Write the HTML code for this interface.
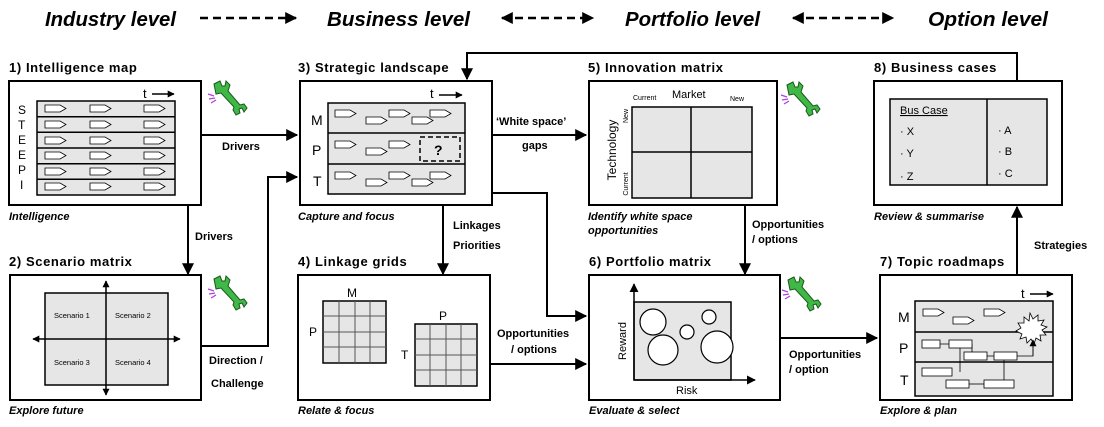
<!DOCTYPE html>
<html><head><meta charset="utf-8"><style>
html,body{margin:0;padding:0;background:#fff;}
svg{display:block;font-family:"Liberation Sans",sans-serif;}
.t{font-weight:bold;font-size:13px;letter-spacing:0.6px}
.f{font-weight:bold;font-style:italic;font-size:11px}
.l{font-weight:bold;font-size:11px}
.h{font-weight:bold;font-style:italic;font-size:20px}
</style></head><body>
<svg width="1104" height="427" viewBox="0 0 1104 427" xmlns="http://www.w3.org/2000/svg">
<defs>
<marker id="a" viewBox="0 0 10 10" refX="9" refY="5" markerWidth="9" markerHeight="9" markerUnits="userSpaceOnUse" orient="auto"><path d="M0,0 L10,5 L0,10z" fill="#000"/></marker>
<marker id="a2" viewBox="0 0 10 10" refX="9" refY="5" markerWidth="14" markerHeight="12" markerUnits="userSpaceOnUse" orient="auto-start-reverse"><path d="M0,0 L10,5 L0,10z" fill="#000"/></marker>
<marker id="s" viewBox="0 0 10 10" refX="9" refY="5" markerWidth="7" markerHeight="7" markerUnits="userSpaceOnUse" orient="auto-start-reverse"><path d="M0,0 L10,5 L0,10z" fill="#000"/></marker>
<path id="c" d="M0,0 h15 l6,3.5 l-6,3.5 h-15z" fill="#fff" stroke="#000" stroke-width="0.8"/>
<g id="w">
<path d="M214,84 l6,-3 l2,5 l3,0 l1,-5 l4,4 l-2,6 l12,14 l4,-1 l3,4 l-3,4 l-2,-4 l-3,1 l1,4 l-4,2 l-3,-5 l1,-3 l-13,-14 l-5,1z" fill="#3fb848" stroke="#1a5a1a" stroke-width="1"/>
<path d="M208,94 l6,2 M209,99 l6,-1 M211,103 l5,-3" stroke="#b040e0" stroke-width="1.3"/>
</g>
</defs>
<!-- header -->
<g class="h">
<text x="45" y="26" textLength="131" lengthAdjust="spacingAndGlyphs">Industry level</text>
<text x="327" y="26" textLength="143" lengthAdjust="spacingAndGlyphs">Business level</text>
<text x="625" y="26" textLength="135" lengthAdjust="spacingAndGlyphs">Portfolio level</text>
<text x="928" y="26" textLength="120" lengthAdjust="spacingAndGlyphs">Option level</text>
</g>
<g stroke="#000" stroke-width="2.5" stroke-dasharray="8,5" fill="none">
<line x1="200" y1="18" x2="296" y2="18" marker-end="url(#a2)"/>
<line x1="502" y1="18" x2="593" y2="18" marker-start="url(#a2)" marker-end="url(#a2)"/>
<line x1="793" y1="18" x2="893" y2="18" marker-start="url(#a2)" marker-end="url(#a2)"/>
</g>

<!-- titles & footers -->
<text class="t" x="9" y="72">1) Intelligence map</text>
<text class="t" x="298" y="72">3) Strategic landscape</text>
<text class="t" x="588" y="72">5) Innovation matrix</text>
<text class="t" x="874" y="72">8) Business cases</text>
<text class="t" x="9" y="266">2) Scenario matrix</text>
<text class="t" x="298" y="266">4) Linkage grids</text>
<text class="t" x="589" y="266">6) Portfolio matrix</text>
<text class="t" x="880" y="266">7) Topic roadmaps</text>
<text class="f" x="9" y="220">Intelligence</text>
<text class="f" x="298" y="220">Capture and focus</text>
<text class="f" x="588" y="220">Identify white space</text>
<text class="f" x="588" y="234">opportunities</text>
<text class="f" x="874" y="220">Review &amp; summarise</text>
<text class="f" x="9" y="414">Explore future</text>
<text class="f" x="298" y="414">Relate &amp; focus</text>
<text class="f" x="589" y="414">Evaluate &amp; select</text>
<text class="f" x="880" y="414">Explore &amp; plan</text>

<g fill="#fff" stroke="#000" stroke-width="2">
<rect x="9" y="81" width="192" height="124"/>
<rect x="300" y="81" width="192" height="124"/>
<rect x="589" y="81" width="188" height="124"/>
<rect x="874" y="81" width="188" height="124"/>
<rect x="10" y="275" width="191" height="125"/>
<rect x="298" y="275" width="192" height="125"/>
<rect x="589" y="275" width="191" height="125"/>
<rect x="880" y="275" width="192" height="125"/>
</g>

<!-- box1 -->
<rect x="37" y="101" width="138" height="94" fill="#e6e6e6" stroke="#000" stroke-width="1.5"/>
<g stroke="#000" stroke-width="1.5">
<line x1="37" y1="116.7" x2="175" y2="116.7"/><line x1="37" y1="132.3" x2="175" y2="132.3"/><line x1="37" y1="148" x2="175" y2="148"/><line x1="37" y1="163.7" x2="175" y2="163.7"/><line x1="37" y1="179.3" x2="175" y2="179.3"/>
</g>
<g font-size="12">
<text x="18" y="114">S</text><text x="18" y="129">T</text><text x="18" y="144">E</text><text x="18" y="159">E</text><text x="18" y="174">P</text><text x="20" y="189">I</text>
</g>
<g>
<use href="#c" x="45" y="105"/><use href="#c" x="90" y="105"/><use href="#c" x="144" y="105"/>
<use href="#c" x="45" y="121"/><use href="#c" x="90" y="121"/><use href="#c" x="144" y="121"/>
<use href="#c" x="45" y="137"/><use href="#c" x="90" y="137"/><use href="#c" x="144" y="137"/>
<use href="#c" x="45" y="152"/><use href="#c" x="90" y="152"/><use href="#c" x="144" y="152"/>
<use href="#c" x="45" y="168"/><use href="#c" x="90" y="168"/><use href="#c" x="144" y="168"/>
<use href="#c" x="45" y="183"/><use href="#c" x="90" y="183"/><use href="#c" x="144" y="183"/>
</g>
<text x="143" y="98" font-size="13">t</text>
<line x1="152" y1="94" x2="174" y2="94" stroke="#000" stroke-width="1.5" marker-end="url(#s)"/>
<use href="#w"/>

<!-- box3 -->
<rect x="328" y="103" width="137" height="91" fill="#e6e6e6" stroke="#000" stroke-width="1.5"/>
<line x1="328" y1="133" x2="465" y2="133" stroke="#000" stroke-width="1.5"/>
<line x1="328" y1="164" x2="465" y2="164" stroke="#000" stroke-width="1.5"/>
<g font-size="14"><text x="311" y="125">M</text><text x="312" y="155">P</text><text x="313" y="186">T</text></g>
<use href="#c" x="335" y="110"/><use href="#c" x="366" y="117"/><use href="#c" x="389" y="110"/><use href="#c" x="412" y="117"/><use href="#c" x="430" y="110"/>
<use href="#c" x="335" y="141"/><use href="#c" x="366" y="148"/><use href="#c" x="389" y="141"/>
<rect x="420" y="137" width="40" height="24" fill="none" stroke="#000" stroke-width="1.5" stroke-dasharray="5,3"/>
<text x="434" y="155" font-size="14" font-weight="bold">?</text>
<use href="#c" x="335" y="172"/><use href="#c" x="366" y="179"/><use href="#c" x="389" y="172"/><use href="#c" x="412" y="179"/><use href="#c" x="430" y="172"/>
<text x="430" y="98" font-size="13">t</text>
<line x1="439" y1="95" x2="462" y2="95" stroke="#000" stroke-width="1.5" marker-end="url(#s)"/>

<!-- box5 -->
<rect x="632" y="107" width="120" height="91" fill="#e6e6e6" stroke="#000" stroke-width="1.5"/>
<line x1="691" y1="107" x2="691" y2="198" stroke="#000" stroke-width="1.5"/>
<line x1="632" y1="152" x2="752" y2="152" stroke="#000" stroke-width="1.5"/>
<text x="633" y="100" font-size="7">Current</text>
<text x="672" y="98" font-size="11">Market</text>
<text x="730" y="101" font-size="7">New</text>
<text transform="translate(616,150) rotate(-90)" text-anchor="middle" font-size="12">Technology</text>
<text transform="translate(628,116) rotate(-90)" text-anchor="middle" font-size="7">New</text>
<text transform="translate(628,184) rotate(-90)" text-anchor="middle" font-size="7">Current</text>
<use href="#w" transform="translate(573,1)"/>

<!-- box8 -->
<rect x="890" y="99" width="157" height="86" fill="#e6e6e6" stroke="#000" stroke-width="1.5"/>
<line x1="987" y1="99" x2="987" y2="185" stroke="#000" stroke-width="1.5"/>
<text x="900" y="114" font-size="11" text-decoration="underline">Bus Case</text>
<g font-size="11"><text x="900" y="135">· X</text><text x="900" y="157">· Y</text><text x="900" y="180">· Z</text>
<text x="998" y="134">· A</text><text x="998" y="155">· B</text><text x="998" y="177">· C</text></g>

<!-- box2 -->
<rect x="45" y="293" width="123" height="92" fill="#e6e6e6" stroke="#000" stroke-width="1.5"/>
<line x1="106" y1="395" x2="106" y2="281" stroke="#000" stroke-width="1.5" marker-start="url(#s)" marker-end="url(#s)"/>
<line x1="33" y1="339" x2="180" y2="339" stroke="#000" stroke-width="1.5" marker-start="url(#s)" marker-end="url(#s)"/>
<g font-size="7.5"><text x="54" y="318">Scenario 1</text><text x="115" y="318">Scenario 2</text><text x="54" y="365">Scenario 3</text><text x="115" y="365">Scenario 4</text></g>
<use href="#w" transform="translate(0,195)"/>

<!-- box4 -->
<g fill="#e6e6e6" stroke="#000" stroke-width="1.5">
<rect x="323" y="301" width="63" height="62"/>
<rect x="415" y="324" width="62" height="62"/>
</g>
<g stroke="#555" stroke-width="1">
<path d="M339,301V363M355,301V363M370,301V363M323,316H386M323,332H386M323,347H386"/>
<path d="M430,324V386M446,324V386M461,324V386M415,339H477M415,355H477M415,370H477"/>
</g>
<g font-size="12"><text x="347" y="297">M</text><text x="309" y="336">P</text><text x="439" y="320">P</text><text x="401" y="359">T</text></g>

<!-- box6 -->
<rect x="634" y="302" width="97" height="78" fill="#e6e6e6" stroke="#000" stroke-width="1.5"/>
<line x1="634" y1="380" x2="634" y2="284" stroke="#000" stroke-width="1.5" marker-end="url(#a)"/>
<line x1="634" y1="380" x2="755" y2="380" stroke="#000" stroke-width="1.5" marker-end="url(#a)"/>
<g fill="#fff" stroke="#000" stroke-width="1.2">
<circle cx="653" cy="322" r="13"/><circle cx="687" cy="332" r="7"/><circle cx="709" cy="317" r="7"/><circle cx="663" cy="350" r="15"/><circle cx="717" cy="347" r="16"/>
</g>
<text transform="translate(626,341) rotate(-90)" text-anchor="middle" font-size="11">Reward</text>
<text x="676" y="394" font-size="11">Risk</text>
<use href="#w" transform="translate(574,196)"/>

<!-- box7 -->
<rect x="915" y="301" width="138" height="95" fill="#e6e6e6" stroke="#000" stroke-width="1.5"/>
<line x1="915" y1="332" x2="1053" y2="332" stroke="#000" stroke-width="1.5"/>
<line x1="915" y1="362" x2="1053" y2="362" stroke="#000" stroke-width="1.5"/>
<g font-size="14"><text x="898" y="322">M</text><text x="899" y="353">P</text><text x="900" y="385">T</text></g>
<use href="#c" x="923" y="309"/><use href="#c" x="953" y="317"/><use href="#c" x="984" y="309"/>
<path d="M1030,313 l3,6 l5,-4 l0,6 l6,-1 l-3,5 l6,2 l-5,3 l4,5 l-6,0 l1,6 l-5,-3 l-2,6 l-3,-5 l-4,4 l-1,-6 l-6,2 l2,-5 l-6,-3 l5,-3 l-3,-5 l6,0 l0,-6 l5,4z" fill="#fff" stroke="#000" stroke-width="0.8"/>
<g stroke="#000" stroke-width="0.8" fill="none">
<path d="M940,344H949M960,348V372M972,344V356H964M987,356H994M1004,360V384M1017,356H1033V342"/>
<path d="M969,384H984"/>
</g>
<line x1="1033" y1="356" x2="1033" y2="340" stroke="#000" stroke-width="0.8" marker-end="url(#s)"/>
<g fill="#fff" stroke="#000" stroke-width="0.8">
<rect x="922" y="340" width="18" height="8"/><rect x="949" y="340" width="23" height="8"/><rect x="964" y="352" width="23" height="8"/><rect x="994" y="352" width="23" height="8"/>
<rect x="922" y="368" width="30" height="8"/><rect x="946" y="380" width="23" height="8"/><rect x="984" y="380" width="30" height="8"/>
</g>
<text x="1021" y="298" font-size="13">t</text>
<line x1="1030" y1="294" x2="1053" y2="294" stroke="#000" stroke-width="1.5" marker-end="url(#s)"/>

<!-- connectors -->
<g stroke="#000" stroke-width="2" fill="none">
<line x1="201" y1="135" x2="297" y2="135" marker-end="url(#a2)"/>
<line x1="188" y1="205" x2="188" y2="274" marker-end="url(#a2)"/>
<polyline points="201,346 268,346 268,177 297,177" marker-end="url(#a2)"/>
<line x1="492" y1="135" x2="586" y2="135" marker-end="url(#a2)"/>
<polyline points="1017,80 1017,53 467,53 467,79" marker-end="url(#a2)"/>
<line x1="443" y1="205" x2="443" y2="274" marker-end="url(#a2)"/>
<polyline points="492,193 547,193 547,316 586,316" marker-end="url(#a2)"/>
<line x1="490" y1="364" x2="586" y2="364" marker-end="url(#a2)"/>
<line x1="745" y1="205" x2="745" y2="274" marker-end="url(#a2)"/>
<line x1="780" y1="338" x2="877" y2="338" marker-end="url(#a2)"/>
<line x1="1017" y1="275" x2="1017" y2="207" marker-end="url(#a2)"/>
</g>
<g class="l">
<text x="222" y="150">Drivers</text>
<text x="195" y="240">Drivers</text>
<text x="209" y="364">Direction /</text>
<text x="211" y="387">Challenge</text>
<text x="496" y="125">‘White space’</text>
<text x="522" y="149">gaps</text>
<text x="453" y="229">Linkages</text>
<text x="453" y="249">Priorities</text>
<text x="497" y="337">Opportunities</text>
<text x="511" y="353">/ options</text>
<text x="752" y="228">Opportunities</text>
<text x="752" y="243">/ options</text>
<text x="789" y="358">Opportunities</text>
<text x="789" y="373">/ option</text>
<text x="1034" y="249">Strategies</text>
</g>
</svg>
</body></html>
